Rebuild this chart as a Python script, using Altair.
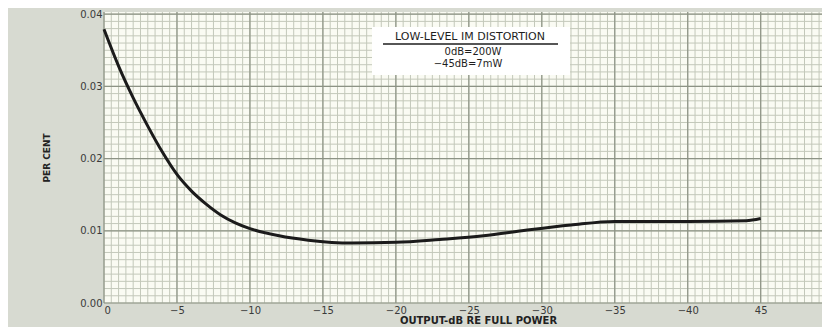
import altair as alt
import pandas as pd
import numpy as np

# curve (output level below full power in dB, distortion in per cent)
output_db = [0, 1, 2, 3, 4, 5, 6, 7, 8, 9, 10, 12, 14, 17, 20, 23, 26, 29, 32, 35, 40, 44, 45]
per_cent = [0.0379, 0.0328, 0.0284, 0.0245, 0.0209, 0.0178, 0.0155, 0.0137, 0.0122,
            0.0111, 0.0103, 0.0093, 0.0087, 0.0083, 0.0084, 0.0088, 0.0093, 0.0101,
            0.0108, 0.0113, 0.0113, 0.0114, 0.0117]

x_ticks = [0, 5, 10, 15, 20, 25, 30, 35, 40, 45]
y_ticks = [0.0, 0.01, 0.02, 0.03, 0.04]
y_labels = ["0.00", "0.01", "0.02", "0.03", "0.04"]

legend_lines = ["LOW-LEVEL IM DISTORTION", "0dB=200W", "\u221245dB=7mW"]

W, H = 718, 291
X_DOM = [0, 49.2]
Y_DOM = [0, 0.0403]

xs = alt.Scale(domain=X_DOM, nice=False, zero=False)
ys = alt.Scale(domain=Y_DOM, nice=False, zero=False)

label_map = "{" + ",".join(f"'{v}':'{l}'" for v, l in zip(y_ticks, y_labels)) + "}"

x_axis = alt.Axis(values=x_ticks, title="OUTPUT-dB RE FULL POWER",
                  labelExpr="datum.value == 0 ? '0' : datum.value == 45 ? '45' : '\u2212' + datum.value",
                  grid=False, ticks=False, domain=False,
                  labelFont="DejaVu Sans", labelFontSize=10,
                  labelColor="#3a3a3a", labelPadding=2,
                  titleFont="DejaVu Sans", titleFontSize=10,
                  titleFontWeight="bold", titleColor="#222222",
                  titlePadding=0, titleX=374)
y_axis = alt.Axis(values=y_ticks, title="PER CENT",
                  labelExpr=f"{label_map}[datum.value] || format(datum.value, '.2f')",
                  grid=False, ticks=False, domain=False,
                  labelFont="DejaVu Sans", labelFontSize=10,
                  labelColor="#3a3a3a", labelPadding=2,
                  titleFont="DejaVu Sans", titleFontSize=9,
                  titleFontWeight="bold", titleColor="#222222",
                  titlePadding=28)

curve_df = pd.DataFrame({"db": output_db, "pc": per_cent})

minor_x = pd.DataFrame({"v": np.arange(0, X_DOM[1] + 0.01, 0.5)})
minor_y = pd.DataFrame({"v": np.arange(0, Y_DOM[1] + 1e-6, 0.001)})
major_x = pd.DataFrame({"v": x_ticks})
major_y = pd.DataFrame({"v": y_ticks})

GRID = "#c3c8ba"
MAJOR = "#8d9385"

gx = alt.Chart(minor_x).mark_rule(color=GRID, strokeWidth=1).encode(
    x=alt.X("v:Q", scale=xs, axis=x_axis))
gy = alt.Chart(minor_y).mark_rule(color=GRID, strokeWidth=1).encode(
    y=alt.Y("v:Q", scale=ys, axis=y_axis))
mx = alt.Chart(major_x).mark_rule(color=MAJOR, strokeWidth=1.2).encode(
    x=alt.X("v:Q", scale=xs, axis=x_axis))
my = alt.Chart(major_y).mark_rule(color=MAJOR, strokeWidth=1.2).encode(
    y=alt.Y("v:Q", scale=ys, axis=y_axis))

line = alt.Chart(curve_df).mark_line(color="#1b1b1b", strokeWidth=3,
                                     interpolate="monotone").encode(
    x=alt.X("db:Q", scale=xs, axis=x_axis),
    y=alt.Y("pc:Q", scale=ys, axis=y_axis),
)

box = alt.Chart(pd.DataFrame({"a": [0]})).mark_rect(color="#ffffff").encode(
    x=alt.value(268), x2=alt.value(466), y=alt.value(15), y2=alt.value(63))

legend_df = pd.DataFrame({"t": legend_lines})
t1 = alt.Chart(legend_df.iloc[[0]]).mark_text(
    font="DejaVu Sans", fontSize=11, color="#1e1e1e", baseline="bottom",
    align="center").encode(text="t:N", x=alt.value(366), y=alt.value(30))
t2 = alt.Chart(legend_df.iloc[[1]]).mark_text(
    font="DejaVu Sans", fontSize=10, color="#1e1e1e", baseline="middle",
    align="center").encode(text="t:N", x=alt.value(369), y=alt.value(40))
t3 = alt.Chart(legend_df.iloc[[2]]).mark_text(
    font="DejaVu Sans", fontSize=10, color="#1e1e1e", baseline="middle",
    align="center").encode(text="t:N", x=alt.value(364), y=alt.value(52))
uline = alt.Chart(pd.DataFrame({"a": [0]})).mark_rule(color="#1e1e1e", strokeWidth=1.3).encode(
    x=alt.value(279), x2=alt.value(454), y=alt.value(32))

chart = alt.layer(gx, gy, mx, my, box, uline, t1, t2, t3, line).properties(
    width=W, height=H,
    autosize=alt.AutoSizeParams(type="none"),
    padding={"left": 96, "top": 4, "right": 0, "bottom": 24},
    background="#d7dad1",
).configure_view(fill="#fafbf3", stroke=None)

chart.save("out.html", embed_options={"renderer": "svg", "actions": False})
